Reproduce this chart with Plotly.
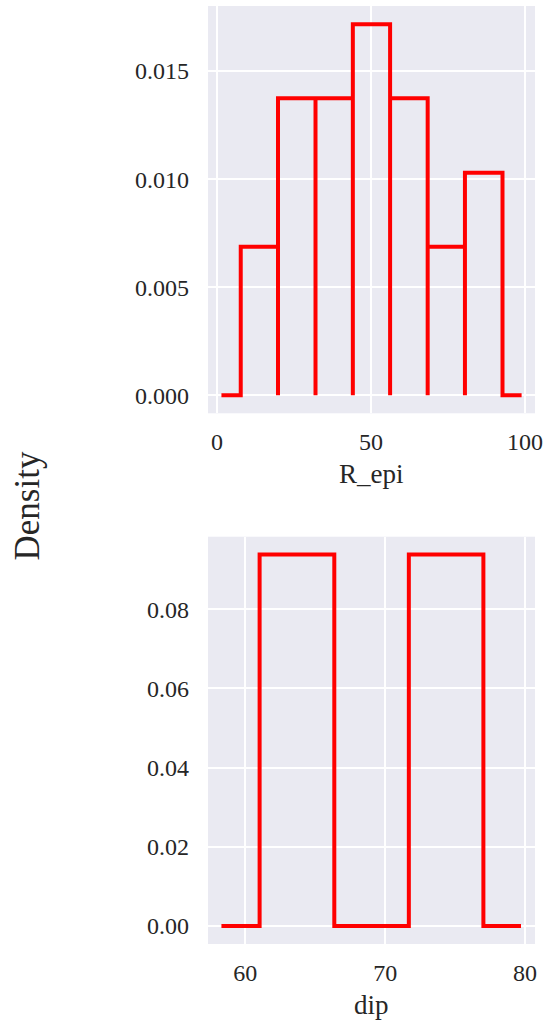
import plotly.graph_objects as go

# ---- data ----
r_epi_edges = [7.7, 19.8, 31.98, 44.1, 56.2, 68.4, 80.5, 92.7]
r_epi_density = [0.00687, 0.01374, 0.01374, 0.01717, 0.01374, 0.00687, 0.01030]
r_epi_baseline = [1.43, 98.9]

dip_edges = [61.02, 66.36, 71.69, 77.02]
dip_density = [0.0938, 0.0, 0.0938]
dip_baseline = [58.29, 79.71]

r_epi_ticks = [0, 50, 100]
r_epi_yticks = [0.0, 0.005, 0.010, 0.015]
dip_ticks = [60, 70, 80]
dip_yticks = [0.0, 0.02, 0.04, 0.06, 0.08]


def step_path(edges, heights, baseline):
    xs = [baseline[0], edges[0]]
    ys = [0, 0]
    for i, h in enumerate(heights):
        xs += [edges[i], edges[i + 1], edges[i + 1]]
        ys += [h, h, 0]
    xs.append(baseline[1])
    ys.append(0)
    return xs, ys


FONT = "Liberation Serif"
RED = "#ff0000"
BG = "#EAEAF2"
TXT = "#262626"

fig = go.Figure()
x1, y1 = step_path(r_epi_edges, r_epi_density, r_epi_baseline)
fig.add_trace(go.Scatter(x=x1, y=y1, mode="lines", line=dict(color=RED, width=4),
                         xaxis="x", yaxis="y", showlegend=False, hoverinfo="skip"))
x2, y2 = step_path(dip_edges, dip_density, dip_baseline)
fig.add_trace(go.Scatter(x=x2, y=y2, mode="lines", line=dict(color=RED, width=4),
                         xaxis="x2", yaxis="y2", showlegend=False, hoverinfo="skip"))

axis_common = dict(showgrid=True, gridcolor="white", gridwidth=1.5, zeroline=False,
                   showline=False, ticks="", automargin=False,
                   tickfont=dict(family=FONT, size=24, color=TXT))

fig.update_layout(
    width=546, height=1025,
    margin=dict(l=208, r=11, t=6, b=81),
    paper_bgcolor="white", plot_bgcolor=BG,
    font=dict(family=FONT, color=TXT),
    xaxis=dict(domain=[0, 1], anchor="y", range=[-2.93, 103.25], tickvals=r_epi_ticks,
               ticklabelstandoff=12, **axis_common),
    yaxis=dict(domain=[0.5658, 1], anchor="x", range=[-0.00083, 0.01801], tickvals=r_epi_yticks,
               tickformat=".3f", ticklabelstandoff=18, **axis_common),
    xaxis2=dict(domain=[0, 1], anchor="y2", range=[57.33, 80.71], tickvals=dip_ticks,
                ticklabelstandoff=12, **axis_common),
    yaxis2=dict(domain=[0, 0.4342], anchor="x2", range=[-0.00455, 0.0983], tickvals=dip_yticks,
                tickformat=".2f", ticklabelstandoff=18, **axis_common),
    annotations=[
        dict(text="R_epi", x=0.5, xref="paper", y=(944 - 474) / 938, yref="paper",
             showarrow=False, xanchor="center", yanchor="middle",
             font=dict(family=FONT, size=27, color=TXT)),
        dict(text="dip", x=0.5, xref="paper", y=(944 - 1005) / 938, yref="paper",
             showarrow=False, xanchor="center", yanchor="middle",
             font=dict(family=FONT, size=27, color=TXT)),
        dict(text="Density", x=(27 - 208) / 327, xref="paper", y=(944 - 505.5) / 938, yref="paper",
             showarrow=False, xanchor="center", yanchor="middle", textangle=-90,
             font=dict(family=FONT, size=35, color=TXT)),
    ],
)

fig.write_html("out.html", config={"displayModeBar": False},
               post_script="document.body.style.margin='0';document.body.style.overflow='hidden';")
